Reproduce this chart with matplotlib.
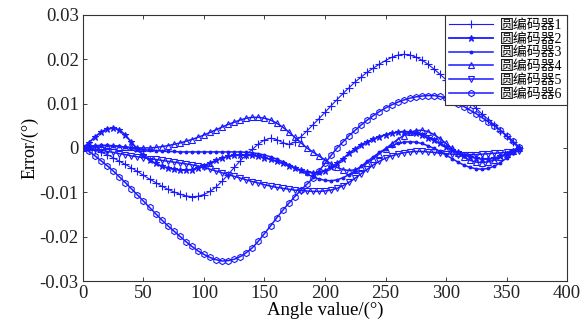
import numpy as np
import matplotlib
matplotlib.use("Agg")
import matplotlib.pyplot as plt

plt.rcParams['font.family'] = ['Liberation Serif', 'Noto Sans CJK SC', 'DejaVu Sans']

angle = list(range(0, 365, 5))

enc1 = [0, -0.0002, -0.0005, -0.001, -0.0015, -0.0022, -0.003, -0.0037, -0.0045, -0.0053,
        -0.0062, -0.007, -0.0078, -0.0086, -0.0093, -0.0099, -0.0104, -0.0108, -0.011, -0.0109,
        -0.0105, -0.0098, -0.0088, -0.0075, -0.006, -0.0044, -0.0029, -0.0015, -0.0003, 0.0009,
        0.0018, 0.0022, 0.0019, 0.0012, 0.0008, 0.0013, 0.0025, 0.0038, 0.0052, 0.0066,
        0.008, 0.0095, 0.0109, 0.0123, 0.0136, 0.0149, 0.016, 0.0171, 0.018, 0.0189,
        0.0197, 0.0204, 0.0209, 0.0211, 0.021, 0.0205, 0.0198, 0.0189, 0.0178, 0.0166,
        0.0154, 0.0141, 0.0128, 0.0115, 0.0102, 0.0089, 0.0076, 0.0064, 0.0052, 0.0039,
        0.0026, 0.0013, 0.0]

enc2 = [0, 0.0012, 0.0025, 0.0036, 0.0043, 0.0045, 0.0041, 0.0029, 0.0013, -0.0003,
        -0.0017, -0.0027, -0.0035, -0.0041, -0.0045, -0.0048, -0.005, -0.005, -0.0049, -0.0045,
        -0.004, -0.0034, -0.0028, -0.0023, -0.0019, -0.0017, -0.0016, -0.0016, -0.0017, -0.0019,
        -0.0022, -0.0026, -0.003, -0.0035, -0.004, -0.0045, -0.005, -0.0054, -0.0056, -0.0055,
        -0.0051, -0.0044, -0.0035, -0.0024, -0.0012, -0.0002, 0.0007, 0.0014, 0.002, 0.0025,
        0.003, 0.0033, 0.0035, 0.0037, 0.0036, 0.0033, 0.0029, 0.0023, 0.0017, 0.001,
        0.0003, -0.0004, -0.001, -0.0016, -0.002, -0.0023, -0.0025, -0.0025, -0.0023, -0.0019,
        -0.0013, -0.0006, 0.0]

enc3 = [0, 0.0003, 0.0005, 0.0006, 0.0006, 0.0005, 0.0004, 0.0002, 0.0, -0.0002,
        -0.0004, -0.0005, -0.0006, -0.0007, -0.0008, -0.0008, -0.0009, -0.0009, -0.0009, -0.0009,
        -0.0009, -0.0009, -0.0009, -0.0009, -0.0009, -0.0009, -0.0009, -0.001, -0.0011, -0.0013,
        -0.0016, -0.002, -0.0025, -0.0031, -0.0038, -0.0045, -0.0052, -0.0059, -0.0065, -0.007,
        -0.0073, -0.0074, -0.0072, -0.0067, -0.006, -0.0051, -0.0041, -0.003, -0.002, -0.001,
        -0.0002, 0.0005, 0.001, 0.0013, 0.0014, 0.0013, 0.001, 0.0005, -0.0001, -0.0008,
        -0.0016, -0.0024, -0.0032, -0.0039, -0.0044, -0.0047, -0.0048, -0.0046, -0.0041, -0.0033,
        -0.0023, -0.0012, 0.0]

enc4 = [0, 0.0002, 0.0004, 0.0005, 0.0005, 0.0004, 0.0003, 0.0002, 0.0001, 0.0,
        0.0, 0.0, 0.0001, 0.0003, 0.0005, 0.0008, 0.0011, 0.0015, 0.0019, 0.0024,
        0.0029, 0.0035, 0.0041, 0.0047, 0.0053, 0.0058, 0.0063, 0.0067, 0.0069, 0.0069,
        0.0067, 0.0063, 0.0056, 0.0047, 0.0036, 0.0024, 0.0012, 0.0, -0.0009, -0.0018,
        -0.0027, -0.0036, -0.0044, -0.0049, -0.0051, -0.0049, -0.0043, -0.0034, -0.0024, -0.0013,
        -0.0002, 0.0009, 0.0019, 0.0028, 0.0035, 0.0039, 0.004, 0.0037, 0.003, 0.0021,
        0.001, -0.0001, -0.0012, -0.0021, -0.0028, -0.0032, -0.0033, -0.0031, -0.0027, -0.0021,
        -0.0014, -0.0007, 0.0]

enc5 = [0, -0.0001, -0.0003, -0.0005, -0.0008, -0.001, -0.0013, -0.0015, -0.0018, -0.002,
        -0.0022, -0.0024, -0.0026, -0.0028, -0.003, -0.0032, -0.0034, -0.0036, -0.0038, -0.0041,
        -0.0044, -0.0048, -0.0052, -0.0056, -0.006, -0.0064, -0.0068, -0.0072, -0.0076, -0.0079,
        -0.0083, -0.0086, -0.0089, -0.0091, -0.0093, -0.0095, -0.0096, -0.0097, -0.0098, -0.0098,
        -0.0097, -0.0095, -0.0091, -0.0085, -0.0077, -0.0068, -0.0058, -0.0048, -0.0038, -0.003,
        -0.0023, -0.0018, -0.0014, -0.0011, -0.0009, -0.0008, -0.0008, -0.0009, -0.001, -0.0012,
        -0.0013, -0.0014, -0.0015, -0.0015, -0.0015, -0.0015, -0.0014, -0.0013, -0.0012, -0.0011,
        -0.001, -0.0009, -0.0008]

enc6 = [0, -0.0008, -0.0018, -0.0029, -0.004, -0.0052, -0.0065, -0.0078, -0.0092, -0.0106,
        -0.012, -0.0134, -0.0148, -0.0162, -0.0175, -0.0187, -0.0199, -0.0211, -0.0222, -0.0232,
        -0.024, -0.0247, -0.0252, -0.0255, -0.0254, -0.0251, -0.0245, -0.0236, -0.0225, -0.021,
        -0.0193, -0.0176, -0.0158, -0.0141, -0.0125, -0.011, -0.0095, -0.0082, -0.0068, -0.0052,
        -0.0035, -0.0017, 0.0, 0.0014, 0.0028, 0.004, 0.0052, 0.0063, 0.0073, 0.0082,
        0.009, 0.0097, 0.0103, 0.0108, 0.0112, 0.0115, 0.0117, 0.0118, 0.0118, 0.0116,
        0.0112, 0.0107, 0.01, 0.0093, 0.0085, 0.0077, 0.0068, 0.0059, 0.005, 0.004,
        0.0028, 0.0016, 0.0003]

labels = ['圆编码器1', '圆编码器2', '圆编码器3', '圆编码器4', '圆编码器5', '圆编码器6']
series = [enc1, enc2, enc3, enc4, enc5, enc6]

xticks = [0, 50, 100, 150, 200, 250, 300, 350, 400]
yticks = [-0.03, -0.02, -0.01, 0, 0.01, 0.02, 0.03]
yticklabels = ['-0.03', '-0.02', '-0.01', '0', '0.01', '0.02', '0.03']

fig = plt.figure(figsize=(5.86, 3.23), dpi=100)
ax = fig.add_axes([0.1416, 0.130, 0.826, 0.824])

color = '#1a1aff'
styles = [
    dict(marker='+', ms=5.5, lw=0.8),
    dict(marker='*', ms=5, lw=1.3),
    dict(marker='.', ms=4, lw=1.1),
    dict(marker='^', ms=4.5, lw=1.1, mfc='none'),
    dict(marker='v', ms=4.5, lw=1.1, mfc='none'),
    dict(marker='h', ms=4.5, lw=1.1, mfc='none'),
]
for y, lab, st in zip(series, labels, styles):
    ax.plot(angle, y, color=color, mec=color, mew=0.8, label=lab, **st)

ax.set_xlim(0, 400)
ax.set_ylim(-0.03, 0.03)
ax.set_xticks(xticks)
ax.set_yticks(yticks)
ax.set_yticklabels(yticklabels)
ax.tick_params(direction='in', top=True, right=True, length=3, width=0.6,
               labelsize=13.5, colors='#222222', pad=3)
for sp in ax.spines.values():
    sp.set_linewidth(0.8)
    sp.set_color('#333333')

ax.set_xlabel('Angle value/(°)', fontsize=13.5, labelpad=0)
ax.set_ylabel('Error/(°)', fontsize=13, labelpad=1)

leg = ax.legend(loc='upper right', borderaxespad=0, fancybox=False, framealpha=1,
                edgecolor='#333333', fontsize=10, handlelength=3.2, labelspacing=0.05,
                handletextpad=0.5, borderpad=0.3)
leg.get_frame().set_linewidth(0.8)

fig.savefig('out.png', dpi=100)
